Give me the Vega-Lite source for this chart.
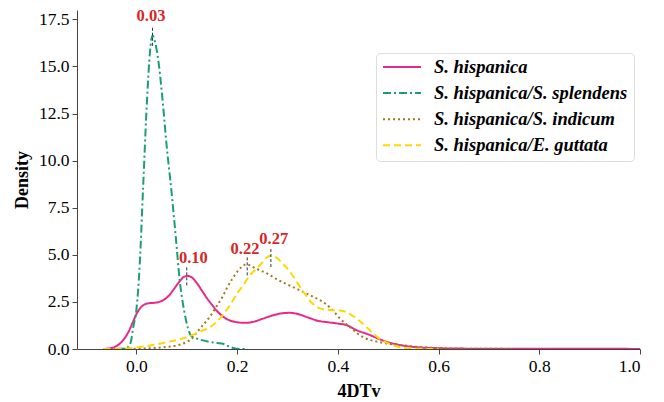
{
  "$schema": "https://vega.github.io/schema/vega-lite/v6.json",
  "autosize": {"type": "none"},
  "padding": {"left": 77, "top": 10, "right": 24, "bottom": 53},
  "width": 563,
  "height": 339,
  "background": "white",
  "config": {
    "view": {"stroke": null},
    "font": "Times New Roman, Liberation Serif, serif",
    "axis": {
      "labelFont": "Times New Roman, Liberation Serif, serif", "labelFontSize": 17.5, "labelColor": "#000",
      "titleFont": "Times New Roman, Liberation Serif, serif", "titleFontSize": 18, "titleFontWeight": "bold", "titleColor": "#000",
      "domainColor": "#444", "tickColor": "#444", "tickSize": 5, "grid": false, "labelPadding": 3
    }
  },
  "layer": [
    {
      "data": {"values": [
        {"s": "S. hispanica", "x": -0.065, "y": 0},
        {"s": "S. hispanica", "x": -0.05, "y": 0.05},
        {"s": "S. hispanica", "x": -0.04, "y": 0.15},
        {"s": "S. hispanica", "x": -0.027, "y": 0.45},
        {"s": "S. hispanica", "x": -0.015, "y": 0.95},
        {"s": "S. hispanica", "x": -0.007, "y": 1.43},
        {"s": "S. hispanica", "x": 0.0, "y": 1.85},
        {"s": "S. hispanica", "x": 0.007, "y": 2.15},
        {"s": "S. hispanica", "x": 0.015, "y": 2.35},
        {"s": "S. hispanica", "x": 0.025, "y": 2.43},
        {"s": "S. hispanica", "x": 0.035, "y": 2.45},
        {"s": "S. hispanica", "x": 0.045, "y": 2.5},
        {"s": "S. hispanica", "x": 0.055, "y": 2.62},
        {"s": "S. hispanica", "x": 0.065, "y": 2.85},
        {"s": "S. hispanica", "x": 0.075, "y": 3.2},
        {"s": "S. hispanica", "x": 0.086, "y": 3.6},
        {"s": "S. hispanica", "x": 0.095, "y": 3.84},
        {"s": "S. hispanica", "x": 0.102, "y": 3.88},
        {"s": "S. hispanica", "x": 0.11, "y": 3.8},
        {"s": "S. hispanica", "x": 0.12, "y": 3.5},
        {"s": "S. hispanica", "x": 0.13, "y": 3.1},
        {"s": "S. hispanica", "x": 0.14, "y": 2.7},
        {"s": "S. hispanica", "x": 0.15, "y": 2.35},
        {"s": "S. hispanica", "x": 0.16, "y": 2.02},
        {"s": "S. hispanica", "x": 0.172, "y": 1.72},
        {"s": "S. hispanica", "x": 0.185, "y": 1.52},
        {"s": "S. hispanica", "x": 0.2, "y": 1.42},
        {"s": "S. hispanica", "x": 0.215, "y": 1.39},
        {"s": "S. hispanica", "x": 0.23, "y": 1.43},
        {"s": "S. hispanica", "x": 0.25, "y": 1.6},
        {"s": "S. hispanica", "x": 0.27, "y": 1.78},
        {"s": "S. hispanica", "x": 0.29, "y": 1.9},
        {"s": "S. hispanica", "x": 0.305, "y": 1.92},
        {"s": "S. hispanica", "x": 0.32, "y": 1.86},
        {"s": "S. hispanica", "x": 0.34, "y": 1.68},
        {"s": "S. hispanica", "x": 0.36, "y": 1.5},
        {"s": "S. hispanica", "x": 0.38, "y": 1.42},
        {"s": "S. hispanica", "x": 0.4, "y": 1.35},
        {"s": "S. hispanica", "x": 0.417, "y": 1.27},
        {"s": "S. hispanica", "x": 0.437, "y": 1.0},
        {"s": "S. hispanica", "x": 0.463, "y": 0.75},
        {"s": "S. hispanica", "x": 0.48, "y": 0.55},
        {"s": "S. hispanica", "x": 0.497, "y": 0.38},
        {"s": "S. hispanica", "x": 0.515, "y": 0.26},
        {"s": "S. hispanica", "x": 0.53, "y": 0.18},
        {"s": "S. hispanica", "x": 0.55, "y": 0.11},
        {"s": "S. hispanica", "x": 0.565, "y": 0.08},
        {"s": "S. hispanica", "x": 0.6, "y": 0.04},
        {"s": "S. hispanica", "x": 0.65, "y": 0.02},
        {"s": "S. hispanica", "x": 0.7, "y": 0.015},
        {"s": "S. hispanica", "x": 0.8, "y": 0.01},
        {"s": "S. hispanica", "x": 0.9, "y": 0.01},
        {"s": "S. hispanica", "x": 1.0, "y": 0.005},
        {"s": "S. hispanica/S. splendens", "x": -0.04, "y": 0},
        {"s": "S. hispanica/S. splendens", "x": -0.02, "y": 0.05},
        {"s": "S. hispanica/S. splendens", "x": -0.012, "y": 0.3},
        {"s": "S. hispanica/S. splendens", "x": -0.006, "y": 1.2},
        {"s": "S. hispanica/S. splendens", "x": 0.0, "y": 2.1},
        {"s": "S. hispanica/S. splendens", "x": 0.0066, "y": 4.5},
        {"s": "S. hispanica/S. splendens", "x": 0.013, "y": 8.4},
        {"s": "S. hispanica/S. splendens", "x": 0.021, "y": 13.2},
        {"s": "S. hispanica/S. splendens", "x": 0.027, "y": 15.8},
        {"s": "S. hispanica/S. splendens", "x": 0.032, "y": 16.65},
        {"s": "S. hispanica/S. splendens", "x": 0.037, "y": 16.3},
        {"s": "S. hispanica/S. splendens", "x": 0.045, "y": 15.0},
        {"s": "S. hispanica/S. splendens", "x": 0.052, "y": 13.2},
        {"s": "S. hispanica/S. splendens", "x": 0.06, "y": 10.8},
        {"s": "S. hispanica/S. splendens", "x": 0.0695, "y": 8.4},
        {"s": "S. hispanica/S. splendens", "x": 0.078, "y": 6.0},
        {"s": "S. hispanica/S. splendens", "x": 0.086, "y": 3.64},
        {"s": "S. hispanica/S. splendens", "x": 0.095, "y": 2.0},
        {"s": "S. hispanica/S. splendens", "x": 0.103, "y": 1.05},
        {"s": "S. hispanica/S. splendens", "x": 0.108, "y": 0.72},
        {"s": "S. hispanica/S. splendens", "x": 0.113, "y": 0.62},
        {"s": "S. hispanica/S. splendens", "x": 0.12, "y": 0.55},
        {"s": "S. hispanica/S. splendens", "x": 0.13, "y": 0.47},
        {"s": "S. hispanica/S. splendens", "x": 0.145, "y": 0.38},
        {"s": "S. hispanica/S. splendens", "x": 0.16, "y": 0.32},
        {"s": "S. hispanica/S. splendens", "x": 0.172, "y": 0.28},
        {"s": "S. hispanica/S. splendens", "x": 0.18, "y": 0.18},
        {"s": "S. hispanica/S. splendens", "x": 0.19, "y": 0.07},
        {"s": "S. hispanica/S. splendens", "x": 0.2, "y": 0.01},
        {"s": "S. hispanica/S. splendens", "x": 0.22, "y": 0.0},
        {"s": "S. hispanica/S. indicum", "x": -0.065, "y": 0},
        {"s": "S. hispanica/S. indicum", "x": -0.03, "y": 0.005},
        {"s": "S. hispanica/S. indicum", "x": 0.0, "y": 0.02},
        {"s": "S. hispanica/S. indicum", "x": 0.04, "y": 0.06},
        {"s": "S. hispanica/S. indicum", "x": 0.06, "y": 0.11},
        {"s": "S. hispanica/S. indicum", "x": 0.08, "y": 0.19},
        {"s": "S. hispanica/S. indicum", "x": 0.1, "y": 0.38},
        {"s": "S. hispanica/S. indicum", "x": 0.112, "y": 0.6},
        {"s": "S. hispanica/S. indicum", "x": 0.119, "y": 0.85},
        {"s": "S. hispanica/S. indicum", "x": 0.13, "y": 1.2},
        {"s": "S. hispanica/S. indicum", "x": 0.146, "y": 1.72},
        {"s": "S. hispanica/S. indicum", "x": 0.16, "y": 2.3},
        {"s": "S. hispanica/S. indicum", "x": 0.172, "y": 2.82},
        {"s": "S. hispanica/S. indicum", "x": 0.18, "y": 3.25},
        {"s": "S. hispanica/S. indicum", "x": 0.19, "y": 3.7},
        {"s": "S. hispanica/S. indicum", "x": 0.2, "y": 4.1},
        {"s": "S. hispanica/S. indicum", "x": 0.21, "y": 4.38},
        {"s": "S. hispanica/S. indicum", "x": 0.218, "y": 4.5},
        {"s": "S. hispanica/S. indicum", "x": 0.225, "y": 4.45},
        {"s": "S. hispanica/S. indicum", "x": 0.235, "y": 4.3},
        {"s": "S. hispanica/S. indicum", "x": 0.245, "y": 4.18},
        {"s": "S. hispanica/S. indicum", "x": 0.26, "y": 4.0},
        {"s": "S. hispanica/S. indicum", "x": 0.271, "y": 3.82},
        {"s": "S. hispanica/S. indicum", "x": 0.29, "y": 3.55},
        {"s": "S. hispanica/S. indicum", "x": 0.311, "y": 3.29},
        {"s": "S. hispanica/S. indicum", "x": 0.325, "y": 3.11},
        {"s": "S. hispanica/S. indicum", "x": 0.345, "y": 2.85},
        {"s": "S. hispanica/S. indicum", "x": 0.364, "y": 2.6},
        {"s": "S. hispanica/S. indicum", "x": 0.378, "y": 2.35},
        {"s": "S. hispanica/S. indicum", "x": 0.39, "y": 2.05},
        {"s": "S. hispanica/S. indicum", "x": 0.405, "y": 1.6},
        {"s": "S. hispanica/S. indicum", "x": 0.424, "y": 1.16},
        {"s": "S. hispanica/S. indicum", "x": 0.45, "y": 0.63},
        {"s": "S. hispanica/S. indicum", "x": 0.483, "y": 0.36},
        {"s": "S. hispanica/S. indicum", "x": 0.51, "y": 0.25},
        {"s": "S. hispanica/S. indicum", "x": 0.53, "y": 0.19},
        {"s": "S. hispanica/S. indicum", "x": 0.563, "y": 0.1},
        {"s": "S. hispanica/S. indicum", "x": 0.6, "y": 0.05},
        {"s": "S. hispanica/S. indicum", "x": 0.65, "y": 0.02},
        {"s": "S. hispanica/S. indicum", "x": 0.7, "y": 0.01},
        {"s": "S. hispanica/S. indicum", "x": 0.75, "y": 0.005},
        {"s": "S. hispanica/E. guttata", "x": -0.065, "y": 0},
        {"s": "S. hispanica/E. guttata", "x": -0.03, "y": 0.02},
        {"s": "S. hispanica/E. guttata", "x": 0.0, "y": 0.08},
        {"s": "S. hispanica/E. guttata", "x": 0.03, "y": 0.2},
        {"s": "S. hispanica/E. guttata", "x": 0.06, "y": 0.36},
        {"s": "S. hispanica/E. guttata", "x": 0.09, "y": 0.55},
        {"s": "S. hispanica/E. guttata", "x": 0.112, "y": 0.75},
        {"s": "S. hispanica/E. guttata", "x": 0.126, "y": 0.92},
        {"s": "S. hispanica/E. guttata", "x": 0.146, "y": 1.16},
        {"s": "S. hispanica/E. guttata", "x": 0.159, "y": 1.43},
        {"s": "S. hispanica/E. guttata", "x": 0.17, "y": 1.75},
        {"s": "S. hispanica/E. guttata", "x": 0.185, "y": 2.3},
        {"s": "S. hispanica/E. guttata", "x": 0.2, "y": 2.95},
        {"s": "S. hispanica/E. guttata", "x": 0.215, "y": 3.5},
        {"s": "S. hispanica/E. guttata", "x": 0.225, "y": 3.9},
        {"s": "S. hispanica/E. guttata", "x": 0.232, "y": 4.1},
        {"s": "S. hispanica/E. guttata", "x": 0.242, "y": 4.35},
        {"s": "S. hispanica/E. guttata", "x": 0.25, "y": 4.6},
        {"s": "S. hispanica/E. guttata", "x": 0.258, "y": 4.85},
        {"s": "S. hispanica/E. guttata", "x": 0.267, "y": 4.95},
        {"s": "S. hispanica/E. guttata", "x": 0.278, "y": 4.85},
        {"s": "S. hispanica/E. guttata", "x": 0.29, "y": 4.55},
        {"s": "S. hispanica/E. guttata", "x": 0.305, "y": 4.1},
        {"s": "S. hispanica/E. guttata", "x": 0.32, "y": 3.5},
        {"s": "S. hispanica/E. guttata", "x": 0.338, "y": 2.8},
        {"s": "S. hispanica/E. guttata", "x": 0.35, "y": 2.4},
        {"s": "S. hispanica/E. guttata", "x": 0.363, "y": 2.17},
        {"s": "S. hispanica/E. guttata", "x": 0.38, "y": 2.07},
        {"s": "S. hispanica/E. guttata", "x": 0.404, "y": 2.05},
        {"s": "S. hispanica/E. guttata", "x": 0.418, "y": 1.95},
        {"s": "S. hispanica/E. guttata", "x": 0.43, "y": 1.75},
        {"s": "S. hispanica/E. guttata", "x": 0.445, "y": 1.45},
        {"s": "S. hispanica/E. guttata", "x": 0.457, "y": 1.16},
        {"s": "S. hispanica/E. guttata", "x": 0.47, "y": 0.83},
        {"s": "S. hispanica/E. guttata", "x": 0.483, "y": 0.54},
        {"s": "S. hispanica/E. guttata", "x": 0.5, "y": 0.3},
        {"s": "S. hispanica/E. guttata", "x": 0.516, "y": 0.15},
        {"s": "S. hispanica/E. guttata", "x": 0.536, "y": 0.04},
        {"s": "S. hispanica/E. guttata", "x": 0.56, "y": 0.01},
        {"s": "S. hispanica/E. guttata", "x": 0.6, "y": 0.0}
      ]},
      "mark": {"type": "line", "strokeWidth": 2, "interpolate": "monotone", "clip": true},
      "encoding": {
        "x": {"field": "x", "type": "quantitative",
              "scale": {"domain": [-0.118, 1.0], "nice": false, "zero": false},
              "axis": {"values": [0, 0.2, 0.4, 0.6, 0.8, 1.0], "format": ".1f", "title": "4DTv", "titlePadding": 8}},
        "y": {"field": "y", "type": "quantitative",
              "scale": {"domain": [0, 18], "nice": false},
              "axis": {"values": [0, 2.5, 5, 7.5, 10, 12.5, 15, 17.5], "format": ".1f", "title": "Density", "titlePadding": 7}},
        "color": {"field": "s", "type": "nominal",
                  "scale": {"domain": ["S. hispanica", "S. hispanica/S. splendens", "S. hispanica/S. indicum", "S. hispanica/E. guttata"],
                            "range": ["#e7298a", "#1b9e77", "#a6761d", "#ffd700"]},
                  "legend": {"title": null, "orient": "none", "legendX": 299, "legendY": 43,
                             "labelFont": "Times New Roman, Liberation Serif, serif", "labelFontSize": 18.5, "labelFontStyle": "italic", "labelFontWeight": "bold", "labelColor": "#000",
                             "symbolType": "stroke", "symbolSize": 1444, "symbolStrokeWidth": 2, "labelOffset": 12, "clipHeight": 16,
                             "rowPadding": 7.1, "padding": 6, "fillColor": "white", "strokeColor": "#dddddd", "cornerRadius": 4, "labelLimit": 400}},
        "strokeDash": {"field": "s", "type": "nominal",
                       "scale": {"domain": ["S. hispanica", "S. hispanica/S. splendens", "S. hispanica/S. indicum", "S. hispanica/E. guttata"],
                                 "range": [[1, 0], [8, 3, 2, 3], [2, 3], [7, 4]]},
                       "legend": null}
      }
    },
    {
      "data": {"values": [
        {"x": 0.032, "y1": 16.1, "y2": 17.15},
        {"x": 0.1, "y1": 3.38, "y2": 4.35},
        {"x": 0.22, "y1": 3.91, "y2": 4.88},
        {"x": 0.267, "y1": 4.35, "y2": 5.41}
      ]},
      "mark": {"type": "rule", "color": "#333", "strokeWidth": 1, "strokeDash": [3, 2]},
      "encoding": {
        "x": {"field": "x", "type": "quantitative"},
        "y": {"field": "y1", "type": "quantitative"},
        "y2": {"field": "y2"}
      }
    },
    {
      "data": {"values": [
        {"x": 0.029, "y": 17.4, "label": "0.03"},
        {"x": 0.113, "y": 4.56, "label": "0.10"},
        {"x": 0.2157, "y": 5.06, "label": "0.22"},
        {"x": 0.2727, "y": 5.56, "label": "0.27"}
      ]},
      "mark": {"type": "text", "font": "Times New Roman, Liberation Serif, serif", "fontSize": 16.5, "fontWeight": "bold", "color": "#d62728", "align": "center", "baseline": "alphabetic"},
      "encoding": {
        "x": {"field": "x", "type": "quantitative"},
        "y": {"field": "y", "type": "quantitative"},
        "text": {"field": "label"}
      }
    }
  ]
}
